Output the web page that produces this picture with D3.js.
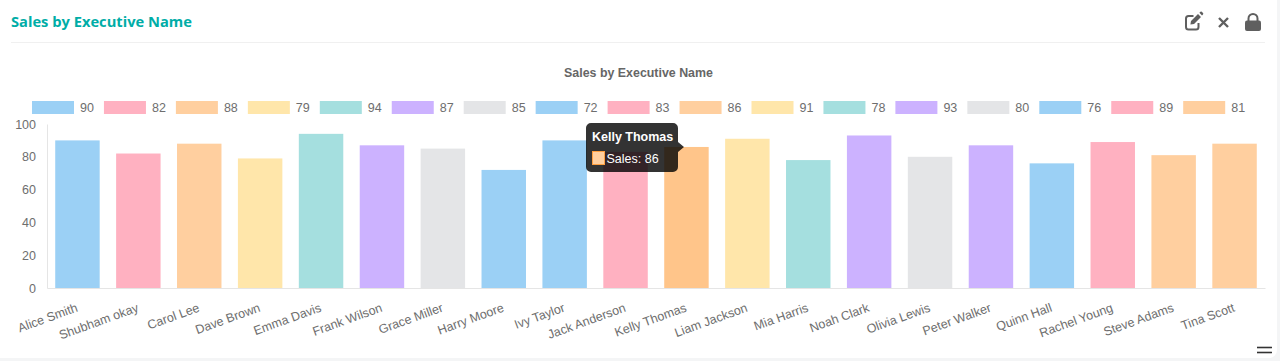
<!DOCTYPE html>
<html>
<head>
<meta charset="utf-8">
<script src="https://cdn.jsdelivr.net/npm/d3@7"></script>
<style>
  html, body { margin: 0; padding: 0; background: #fff; }
  svg { display: block; }
  text { font-family: "Liberation Sans", Arial, sans-serif; }
</style>
</head>
<body>
<svg id="chart" width="1280" height="361"></svg>
<script>
const names = ['Alice Smith', 'Shubham okay', 'Carol Lee', 'Dave Brown', 'Emma Davis', 'Frank Wilson', 'Grace Miller',
  'Harry Moore', 'Ivy Taylor', 'Jack Anderson', 'Kelly Thomas', 'Liam Jackson', 'Mia Harris', 'Noah Clark',
  'Olivia Lewis', 'Peter Walker', 'Quinn Hall', 'Rachel Young', 'Steve Adams', 'Tina Scott'];
const sales = [90, 82, 88, 79, 94, 87, 85, 72, 90, 83, 86, 91, 78, 93, 80, 87, 76, 89, 81, 88];
const palette = ['#9BD0F5', '#FFB1C1', '#FFCF9F', '#FFE6AA', '#A5DFDF', '#CCB2FF', '#E4E5E7'];
const yTicks = [0, 20, 40, 60, 80, 100];
const title = 'Sales by Executive Name';
const hoveredName = 'Kelly Thomas';
const textColor = '#6e6e6e';

const margin = { top: 124, right: 15, bottom: 73, left: 47 };
const width = 1280, height = 361;
const innerWidth = width - margin.left - margin.right;
const innerHeight = height - margin.top - margin.bottom;

const svg = d3.select('#chart');

// page behind the card
svg.append('rect').attr('width', width).attr('height', height).attr('fill', '#f4f5f6');
svg.append('rect').attr('x', -10).attr('y', -10).attr('width', 1287).attr('height', 368).attr('rx', 8).attr('fill', '#fff');

// card header
svg.append('text').attr('x', 11).attr('y', 27)
  .style('font-family', '"Open Sans"').attr('font-size', 14.7).attr('font-weight', 700)
  .attr('fill', '#00ada7').text(title);
svg.append('line').attr('x1', 11).attr('x2', 1265).attr('y1', 42.5).attr('y2', 42.5).attr('stroke', '#f0f0f0');

// header icons
const icons = svg.append('g').attr('fill', '#5f5f5f');
icons.append('path').attr('fill', 'none').attr('stroke', '#5f5f5f').attr('stroke-width', 2)
  .attr('d', 'M1198.5 23v4a2.5 2.5 0 0 1-2.5 2.5h-7.5a2.5 2.5 0 0 1-2.5-2.5v-8.5a2.5 2.5 0 0 1 2.5-2.5h5');
icons.append('path').attr('d', 'M1191 21l7-7 3 3-7 7-3.6.6zM1199.4 12.8l1-1a1 1 0 0 1 1.4 0l1.2 1.2a1 1 0 0 1 0 1.4l-1 1z');
icons.append('path').attr('fill', 'none').attr('stroke', '#5f5f5f').attr('stroke-width', 2.4)
  .attr('d', 'M1219 18l9 9M1228 18l-9 9');
icons.append('path').attr('fill', 'none').attr('stroke', '#5f5f5f').attr('stroke-width', 2)
  .attr('d', 'M1248.5 21v-2.5a4.5 4.5 0 0 1 9 0v2.5');
icons.append('rect').attr('x', 1245).attr('y', 20.5).attr('width', 16).attr('height', 10.5).attr('rx', 2);

// resize handle
svg.append('g').attr('stroke', '#333').attr('stroke-width', 1.6)
  .selectAll('line').data([347.5, 352.5]).join('line')
  .attr('x1', 1257).attr('x2', 1272).attr('y1', d => d).attr('y2', d => d);

// chart title
svg.append('text').attr('x', 638.5).attr('y', 77).attr('text-anchor', 'middle')
  .attr('font-size', 12.4).attr('font-weight', 700).attr('fill', '#666').text(title);

// legend holds each distinct value once, colours cycle over them
const legendValues = Array.from(new Set(sales));
const color = d3.scaleOrdinal().domain(legendValues).range(palette);
const legendScale = d3.scalePoint().domain(legendValues).range([32, 32 + 71.95 * (legendValues.length - 1)]);

const legend = svg.append('g').attr('class', 'legend').attr('transform', 'translate(0,101)')
  .selectAll('g').data(legendValues).join('g')
    .attr('transform', d => `translate(${legendScale(d)},0)`);
legend.append('rect').attr('width', 42).attr('height', 13).attr('fill', d => color(d));
legend.append('text').attr('x', 48).attr('y', 11).attr('font-size', 12.5).attr('fill', textColor).text(d => d);

// plot
const xScale = d3.scaleBand().domain(names).range([0, innerWidth]).paddingInner(0.27).paddingOuter(0.135);
const yScale = d3.scaleLinear().domain([0, 100]).range([innerHeight, 0]);

const chart = svg.append('g').attr('transform', `translate(${margin.left},${margin.top})`);

chart.selectAll('.bar').data(names).join('rect')
  .attr('class', 'bar')
  .attr('x', d => xScale(d))
  .attr('y', (d, i) => yScale(sales[i]))
  .attr('width', xScale.bandwidth())
  .attr('height', (d, i) => innerHeight - yScale(sales[i]))
  .attr('fill', (d, i) => d === hoveredName ? '#FFC58A' : color(sales[i]));

const yAxis = d3.axisLeft(yScale).tickValues(yTicks).tickSize(0).tickPadding(11);
const xAxis = d3.axisBottom(xScale).tickSize(0).tickPadding(0);

const yAxisG = chart.append('g').call(yAxis);
const xAxisG = chart.append('g').attr('transform', `translate(0,${innerHeight})`).call(xAxis);

[yAxisG, xAxisG].forEach(g => {
  g.select('.domain').attr('stroke', '#e5e5e5');
  g.selectAll('text').attr('fill', textColor).attr('font-size', 12.5).style('font-family', '"Liberation Sans"');
});

xAxisG.selectAll('text')
  .style('text-anchor', 'end')
  .attr('y', 0)
  .attr('dy', 0)
  .attr('transform', 'translate(1,23) rotate(-20)');

// tooltip over the hovered bar
const i = names.indexOf(hoveredName);
const tip = svg.append('g').attr('transform', 'translate(586,123)');
tip.append('path').attr('fill', 'rgba(0,0,0,0.8)')
  .attr('d', 'M5 0H87a5 5 0 0 1 5 5V19l6 5-6 5V44a5 5 0 0 1-5 5H5a5 5 0 0 1-5-5V5a5 5 0 0 1 5-5z');
tip.append('text').attr('x', 6).attr('y', 17.5).attr('font-size', 12.5).attr('font-weight', 700)
  .attr('fill', '#fff').text(hoveredName);
tip.append('rect').attr('x', 6.5).attr('y', 28.5).attr('width', 12).attr('height', 13)
  .attr('fill', color(sales[i])).attr('stroke', '#ff9f40').attr('stroke-width', 1);
tip.append('text').attr('x', 20.5).attr('y', 39.5).attr('font-size', 12.5).attr('fill', '#fff').text(`Sales: ${sales[i]}`);
</script>
</body>
</html>
